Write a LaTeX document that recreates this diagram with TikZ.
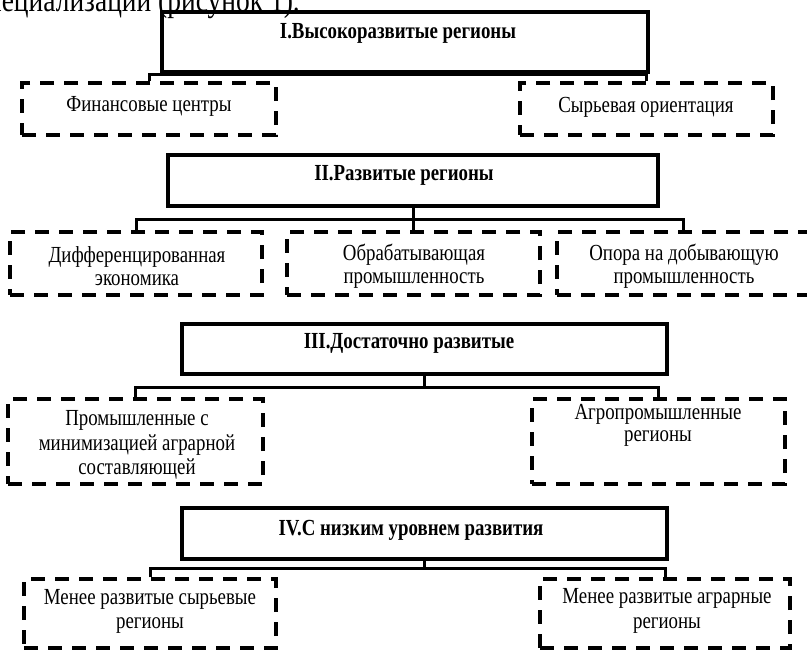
\documentclass[tikz,border=0pt]{standalone}
\usepackage{fontspec}
\setmainfont[FakeStretch=0.82]{Liberation Serif}
\begin{document}
\begin{tikzpicture}[x=1pt,y=-1pt,
  mainbox/.style={draw, line width=3.3pt, inner sep=0pt},
  dbox/.style={draw, line width=3.2pt, dash pattern=on 14pt off 10pt, inner sep=0pt},
  conn/.style={line width=3pt},
  ttl/.style={font=\fontsize{23}{26}\selectfont\bfseries, inner sep=0pt},
  txt/.style={font=\fontsize{23}{23}\selectfont, align=center, inner sep=0pt}]
\useasboundingbox (0,0) rectangle (807,651);
\clip (0,0) rectangle (807,651);
\fill[white] (0,0) rectangle (807,651);
% caption fragment
\node[anchor=base east, inner sep=0pt, font=\fontsize{33.5}{36}\selectfont] (cap) at (300,11) {специализации (рисунок 1).};
% Level I
\node[mainbox, minimum width=486pt, minimum height=60pt] (I) at (405,42) {};
\node[ttl] (tI) at (398,33) {I.Высокоразвитые регионы};
\node[dbox, minimum width=254pt, minimum height=52pt] (f1) at (149,109) {};
\node[dbox, minimum width=253pt, minimum height=52pt] (f2) at (646.5,109) {};
\node[txt] (tf1) at (149,106) {Финансовые центры};
\node[txt] (tf2) at (646,107) {Сырьевая ориентация};
\coordinate (bus1) at (405,74);
\draw[conn] (I.south) -- (I.south |- bus1);
\draw[conn] (f1.north) |- (bus1) -| (f2.north);
% Level II
\node[mainbox, minimum width=490pt, minimum height=51pt] (II) at (413,180.5) {};
\node[ttl] (tII) at (404,175) {II.Развитые регионы};
\node[dbox, minimum width=252pt, minimum height=63pt] (d1) at (136,263.5) {};
\node[dbox, minimum width=253pt, minimum height=63pt] (d2) at (413.5,263.5) {};
\node[dbox, minimum width=252pt, minimum height=63pt] (d3) at (683,263.5) {};
\node[txt] (td1) at (137,266) {Дифференцированная\\экономика};
\node[txt] (td2) at (414,266) {Обрабатывающая\\промышленность};
\node[txt] (td3) at (684,266) {Опора на добывающую\\промышленность};
\coordinate (bus2) at (413.5,219);
\draw[conn] (II.south) -- (II.south |- d2.north);
\draw[conn] (d1.north) |- (bus2) -| (d3.north);
% Level III
\node[mainbox, minimum width=485pt, minimum height=50pt] (III) at (424.5,349) {};
\node[ttl] (tIII) at (409,343) {III.Достаточно развитые};
\node[dbox, minimum width=255pt, minimum height=85pt] (p1) at (135.5,441.5) {};
\node[dbox, minimum width=253pt, minimum height=85pt] (p2) at (658.5,441.5) {};
\node[txt, font=\fontsize{23}{24.5}\selectfont] (tp1) at (137,445) {Промышленные с\\минимизацией аграрной\\составляющей};
\node[txt, font=\fontsize{23}{22}\selectfont] (tp2) at (658,425) {Агропромышленные\\регионы};
\coordinate (bus3) at (424.5,387);
\draw[conn] (III.south) -- (III.south |- bus3);
\draw[conn] (p1.north) |- (bus3) -| (p2.north);
% Level IV
\node[mainbox, minimum width=485pt, minimum height=51pt] (IV) at (424.5,533.5) {};
\node[ttl] (tIV) at (411,530) {IV.С низким уровнем развития};
\node[dbox, minimum width=252pt, minimum height=69pt] (m1) at (150,613.5) {};
\node[dbox, minimum width=250pt, minimum height=69pt] (m2) at (665,613.5) {};
\node[txt, font=\fontsize{23}{24}\selectfont] (tm1) at (150,611) {Менее развитые сырьевые\\регионы};
\node[txt, font=\fontsize{23}{25}\selectfont] (tm2) at (667,611) {Менее развитые аграрные\\регионы};
\coordinate (bus4) at (424.5,568);
\draw[conn] (IV.south) -- (IV.south |- bus4);
\draw[conn] (m1.north) |- (bus4) -| (m2.north);
\end{tikzpicture}
\end{document}
